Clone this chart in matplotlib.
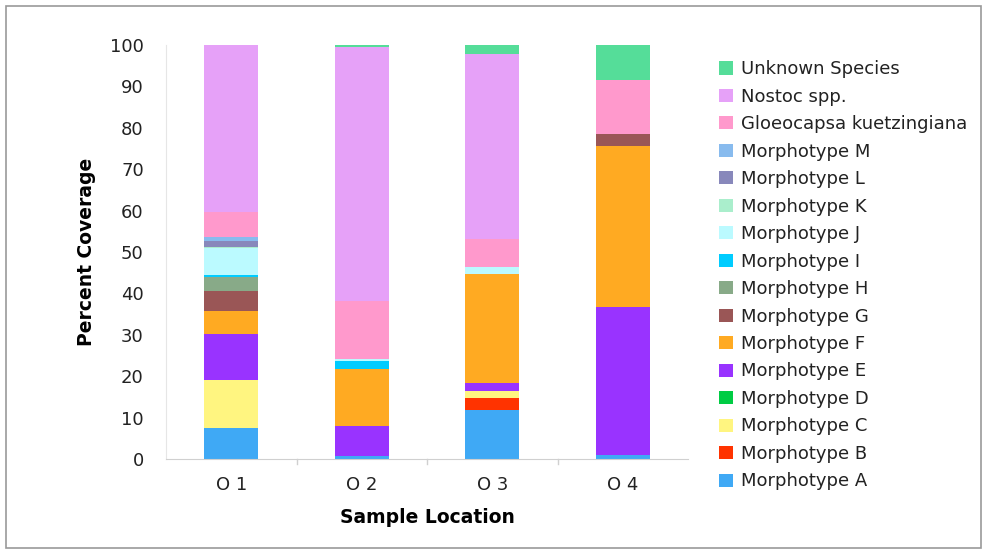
import matplotlib
matplotlib.use("Agg")
import matplotlib.pyplot as plt
from matplotlib.patches import Rectangle, Patch
import numpy as np

categories = ["O 1", "O 2", "O 3", "O 4"]
species = ["Morphotype A", "Morphotype B", "Morphotype C", "Morphotype D",
           "Morphotype E", "Morphotype F", "Morphotype G", "Morphotype H",
           "Morphotype I", "Morphotype J", "Morphotype K", "Morphotype L",
           "Morphotype M", "Gloeocapsa kuetzingiana", "Nostoc spp.",
           "Unknown Species"]

morph_A = [7.4, 0.7, 11.8, 1.0]
morph_B = [0.0, 0.0, 2.9, 0.0]
morph_C = [11.7, 0.0, 1.7, 0.0]
morph_D = [0.0, 0.0, 0.0, 0.0]
morph_E = [11.1, 7.3, 1.9, 35.6]
morph_F = [5.6, 13.7, 26.5, 39.0]
morph_G = [4.9, 0.0, 0.0, 2.9]
morph_H = [3.2, 0.0, 0.0, 0.0]
morph_I = [0.5, 2.0, 0.0, 0.0]
morph_J = [6.5, 0.4, 1.5, 0.0]
morph_K = [0.4, 0.0, 0.0, 0.0]
morph_L = [1.4, 0.0, 0.0, 0.0]
morph_M = [1.0, 0.0, 0.0, 0.0]
gloeocapsa = [6.0, 14.0, 6.8, 13.0]
nostoc = [40.3, 61.3, 44.7, 0.0]
unknown = [0.0, 0.6, 2.2, 8.5]

series = [morph_A, morph_B, morph_C, morph_D, morph_E, morph_F, morph_G,
          morph_H, morph_I, morph_J, morph_K, morph_L, morph_M,
          gloeocapsa, nostoc, unknown]

colors = ["#3FA9F5", "#FF3300", "#FFF580", "#00CC44", "#9933FF", "#FFAA22",
          "#9A5656", "#88AA88", "#00CCFF", "#BBFAFF", "#AAEECC", "#8888BB",
          "#88BBEE", "#FF99CC", "#E6A1F8", "#55DD99"]

fig = plt.figure(figsize=(9.87, 5.54), dpi=100)
fig.patch.set_facecolor("white")
fig.patches.append(Rectangle((6/987, 1 - 548/554), 975/987, 542/554,
                             transform=fig.transFigure, fill=False,
                             edgecolor="#999999", linewidth=1.2))

ax = fig.add_axes([166/987, 1 - 459/554, (688 - 166)/987, (459 - 45)/554])
x = np.arange(len(categories))
bottom = np.zeros(len(categories))
handles = []
for name, vals, col in zip(species, series, colors):
    vals = np.array(vals, dtype=float)
    ax.bar(x, vals, bottom=bottom, width=0.41, color=col, linewidth=0)
    bottom += vals
    handles.append(Patch(facecolor=col, edgecolor="none", label=name))

ax.set_xlim(-0.5, len(categories) - 0.5)
ax.set_ylim(0, 100)
ax.set_yticks(np.arange(0, 101, 10))
ax.set_xticks(x)
ax.set_xticklabels(categories)
ax.tick_params(axis="y", length=0, pad=16, labelsize=13, colors="#222222")
ax.tick_params(axis="x", length=0, pad=12, labelsize=13, colors="#222222")
for t in np.arange(0.5, len(categories) - 0.5, 1.0):
    ax.plot([t, t], [0, -1.2], color="#d0d0d0", lw=1, clip_on=False)
for s in ["top", "right"]:
    ax.spines[s].set_visible(False)
ax.spines["left"].set_color("#e6e6e6")
ax.spines["bottom"].set_color("#d0d0d0")

ax.set_ylabel("Percent Coverage", fontsize=13.5, fontweight="bold", labelpad=10)
ax.set_xlabel("Sample Location", fontsize=13.5, fontweight="bold", labelpad=10)

leg = fig.legend(handles=handles[::-1], loc="upper left",
                 bbox_to_anchor=(712/987, 1 - 53/554), frameon=False,
                 fontsize=13, handlelength=0.75, handleheight=0.75,
                 handletextpad=0.45, labelspacing=0.525, borderaxespad=0)
for t in leg.get_texts():
    t.set_color("#222222")

fig.savefig("out.png", dpi=100, facecolor="white")
